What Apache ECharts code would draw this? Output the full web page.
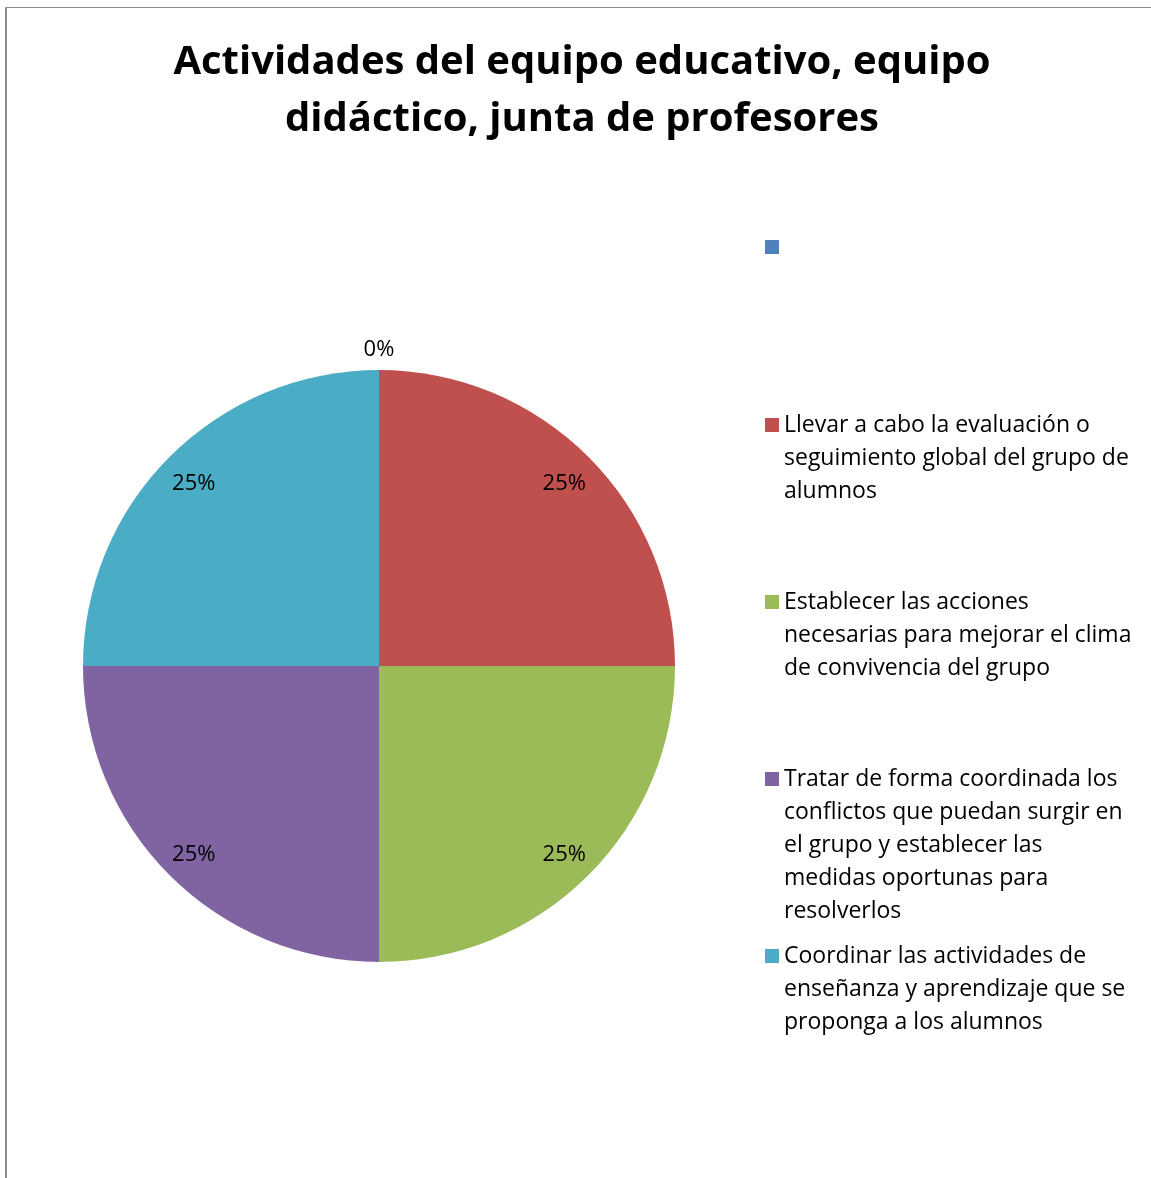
<!DOCTYPE html>
<html>
<head>
<meta charset="utf-8">
<script src="https://cdn.jsdelivr.net/npm/echarts@6/dist/echarts.min.js"></script>
<style>
  html, body { margin: 0; padding: 0; background: #ffffff; }
  #frame {
    position: absolute; left: 5px; top: 7px; right: -4px; bottom: -4px;
    border-left: 2px solid #8c8c8c; border-top: 1px solid #8c8c8c;
  }
  #chart { position: absolute; left: 0; top: 0; width: 1151px; height: 1178px; }
</style>
</head>
<body>
<div id="frame"></div>
<div id="chart"></div>
<script>
// Activities of the teaching team: share of each activity (percent)
const titleText = 'Actividades del equipo educativo, equipo\ndidáctico, junta de profesores';
const categories = [
  ' ',
  'Llevar a cabo la evaluación o\nseguimiento global del grupo de\nalumnos',
  'Establecer las acciones\nnecesarias para mejorar el clima\nde convivencia del grupo',
  'Tratar de forma coordinada los\nconflictos que puedan surgir en\nel grupo y establecer las\nmedidas oportunas para\nresolverlos',
  'Coordinar las actividades de\nenseñanza y aprendizaje que se\nproponga a los alumnos'
];
const values = [0, 25, 25, 25, 25];
const colors = ['#4F81BD', '#C0504D', '#9BBB59', '#8064A2', '#4BACC6'];

const FONT = '"Open Sans", "Noto Sans", sans-serif';
const center = [379, 666];
const R = 296;
const LINE_H = 33;

const pieData = categories.map((name, i) => ({ name, value: values[i] }));

// one legend block per entry so every entry sits on its own row;
// blank lines above the text keep the marker level with the first line
const legendRows = [247, 425, 602, 779, 956];
const legends = categories.map((name, i) => {
  const n = name.split('\n').length;
  return {
    data: [name],
    orient: 'vertical',
    left: 765,
    top: legendRows[i] - (2 * n - 1) * LINE_H / 2,
    padding: 0,
    icon: 'rect',
    itemWidth: 14,
    itemHeight: 14,
    selectedMode: false,
    formatter: s => '\n'.repeat(n - 1) + s,
    textStyle: {
      fontFamily: FONT, fontSize: 23, color: '#000000', lineHeight: LINE_H
    }
  };
});

// percentage text, nudged a little below its anchor point by a thin spacer line
const labelFmt = p => '{s| }\n{v|' + Math.round(p.percent) + '%}';
const labelRich = {
  s: { fontSize: 1, lineHeight: 6 },
  v: { fontFamily: FONT, fontSize: 22, lineHeight: 26, color: '#000000' }
};

const option = {
  backgroundColor: 'transparent',
  animation: false,
  color: colors,
  title: {
    text: titleText,
    left: 582,
    top: 34,
    textAlign: 'center',
    padding: 0,
    textStyle: { fontFamily: FONT, fontWeight: 'bold', fontSize: 40, lineHeight: 57, color: '#000000' }
  },
  legend: legends,
  series: [
    {
      // the slices themselves
      type: 'pie',
      center: center,
      radius: [0, R],
      startAngle: 90,
      clockwise: true,
      avoidLabelOverlap: false,
      label: { show: false },
      labelLine: { show: false },
      itemStyle: { borderWidth: 0 },
      emphasis: { disabled: true },
      data: pieData
    },
    {
      // percentage labels placed well toward the rim
      type: 'pie',
      center: center,
      radius: [222, R],
      startAngle: 90,
      clockwise: true,
      silent: true,
      percentPrecision: 0,
      itemStyle: { color: 'transparent', borderWidth: 0 },
      label: { show: true, position: 'inside', formatter: labelFmt, rich: labelRich },
      labelLine: { show: false },
      emphasis: { disabled: true },
      data: pieData.map(d => d.value === 0 ? { ...d, label: { show: false } } : d)
    },
    {
      // label of the empty slice, just outside the rim
      type: 'pie',
      center: center,
      radius: [R, R + 40],
      startAngle: 90,
      clockwise: true,
      silent: true,
      percentPrecision: 0,
      itemStyle: { color: 'transparent', borderWidth: 0 },
      label: { show: true, position: 'inside', formatter: labelFmt, rich: labelRich },
      labelLine: { show: false },
      emphasis: { disabled: true },
      data: pieData.map(d => d.value === 0 ? d : { ...d, label: { show: false } })
    }
  ]
};

const chart = echarts.init(document.getElementById('chart'), null, { renderer: 'canvas' });
chart.setOption(option);
</script>
</body>
</html>
